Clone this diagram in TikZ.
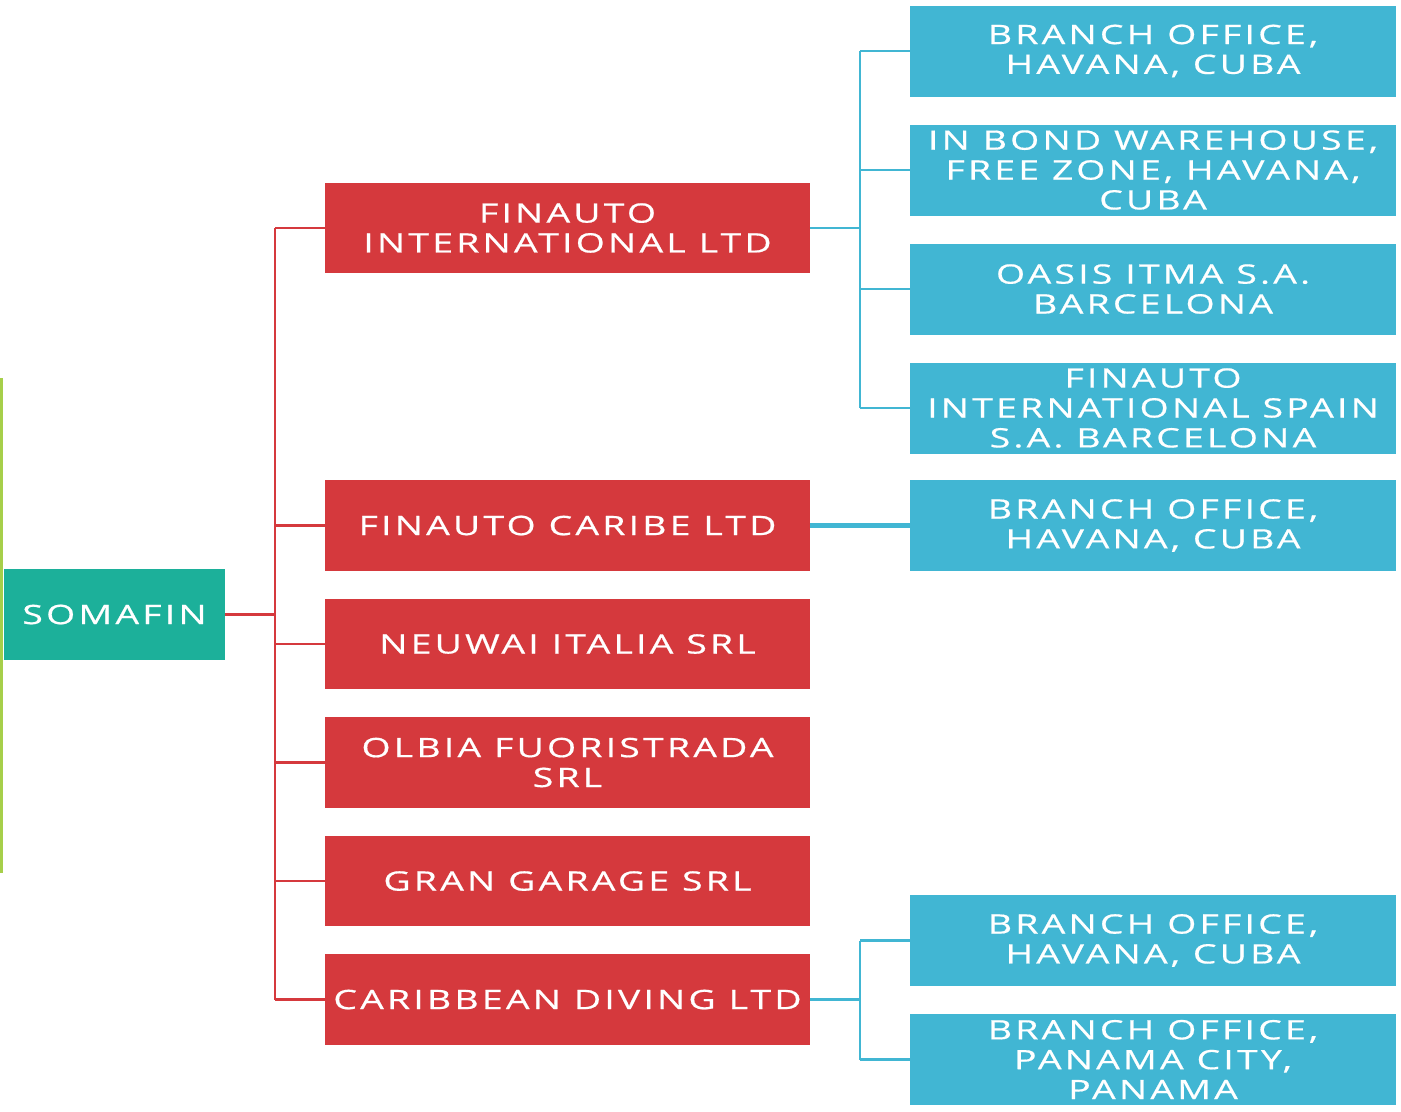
\documentclass[tikz,border=0pt]{standalone}
\usepackage{fontspec}
\setmainfont{Open Sans}[FakeStretch=1.4,LetterSpace=12,FakeBold=0.6]
\usepackage{tikz}
\usetikzlibrary{positioning}
\definecolor{somared}{HTML}{D5393D}
\definecolor{someblue}{HTML}{41B6D3}
\definecolor{someteal}{HTML}{1CB09A}
\definecolor{somegreen}{HTML}{A6CF4A}

\begin{document}
\begin{tikzpicture}[
  boxtext/.style={text=white, inner sep=0pt, outer sep=0pt, align=center,
    font=\fontsize{7.6}{8.5}\selectfont},
  rootbox/.style={boxtext, fill=someteal, minimum width=2.21cm, minimum height=0.91cm},
  redbox/.style={boxtext, fill=somared, minimum width=4.85cm, minimum height=0.905cm},
  bluebox/.style={boxtext, fill=someblue, minimum width=4.86cm, minimum height=0.91cm},
  redline/.style={draw=somared, line width=0.8pt},
  blueline/.style={draw=someblue, line width=0.7pt},
  node distance=0.28cm]
\useasboundingbox (0,0) rectangle (14.01,-11.11);

% root
\node[rootbox] (somafin) at (1.145,-6.145) {SOMAFIN};
\coordinate (gtop) at (0.01,-3.78);
\coordinate (gbot) at (0.01,-8.73);
\draw[somegreen, line width=1pt] (gtop) -- (gbot);

% companies
\node[redbox] (fi) at (5.675,-2.28) {FINAUTO\\INTERNATIONAL LTD};
\node[redbox] (fc) at (5.675,-5.255) {FINAUTO CARIBE LTD};
\node[redbox, below=of fc] (nw) {NEUWAI ITALIA SRL};
\node[redbox, below=of nw] (ob) {OLBIA FUORISTRADA\\SRL};
\node[redbox, below=of ob] (gg) {GRAN GARAGE SRL};
\node[redbox, below=of gg] (cd) {CARIBBEAN DIVING LTD};

% offices
\node[bluebox] (b1) at (11.53,-0.51) {BRANCH OFFICE,\\HAVANA, CUBA};
\node[bluebox, below=of b1] (ib) {IN BOND WAREHOUSE,\\FREE ZONE, HAVANA,\\CUBA};
\node[bluebox, below=of ib] (oa) {OASIS ITMA S.A.\\BARCELONA};
\node[bluebox, below=of oa] (fs) {FINAUTO\\INTERNATIONAL SPAIN\\S.A. BARCELONA};
\node[bluebox, right=1.0cm of fc] (bc) {BRANCH OFFICE,\\HAVANA, CUBA};
\node[bluebox] (bd1) at (11.53,-9.405) {BRANCH OFFICE,\\HAVANA, CUBA};
\node[bluebox, below=of bd1] (bd2) {BRANCH OFFICE,\\PANAMA CITY,\\PANAMA};

% red tree
\coordinate (rtrunk) at (2.75,0);
\draw[redline] (somafin.east) -- (somafin.east -| rtrunk);
\draw[redline] (fi.west -| rtrunk) -- (cd.west -| rtrunk);
\foreach \kid in {fi,fc,nw,ob,gg,cd}
  \draw[redline] (\kid.west -| rtrunk) -- (\kid.west);

% blue trees
\coordinate (btrunk) at (8.60,0);
\draw[blueline] (fi.east) -- (fi.east -| btrunk);
\draw[blueline] (b1.west -| btrunk) -- (fs.west -| btrunk);
\foreach \kid in {b1,ib,oa,fs}
  \draw[blueline] (\kid.west -| btrunk) -- (\kid.west);
\draw[blueline, line width=1.2pt] (fc.east) -- (bc.west);
\draw[blueline] (cd.east) -- (cd.east -| btrunk);
\draw[blueline] (bd1.west -| btrunk) -- (bd2.west -| btrunk);
\foreach \kid in {bd1,bd2}
  \draw[blueline] (\kid.west -| btrunk) -- (\kid.west);
\end{tikzpicture}
\end{document}
